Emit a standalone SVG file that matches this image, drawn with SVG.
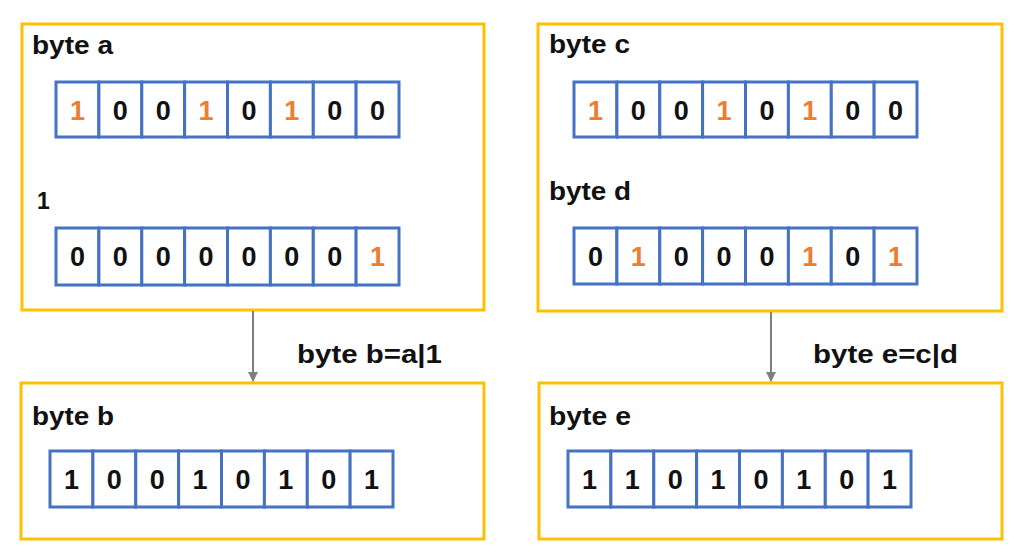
<svg xmlns="http://www.w3.org/2000/svg" width="1024" height="558" viewBox="0 0 1024 558">
<style>
.box{fill:#fff;stroke:#FFC000;stroke-width:3}
.cell{fill:#fff;stroke:#4472C4;stroke-width:3}
.lbl{font-family:"Liberation Sans",Arial,sans-serif;font-weight:bold;font-size:26px;fill:#111}
.d{font-family:"Liberation Sans",Arial,sans-serif;font-weight:bold;font-size:27px;fill:#111;text-anchor:middle}
.o{fill:#ED7D31}
.conn{stroke:#7F7F7F;stroke-width:2;fill:none}
</style>
<defs>
<marker id="arr" markerWidth="10" markerHeight="10" refX="9" refY="5" orient="auto" markerUnits="userSpaceOnUse">
<path d="M0,0 L10,5 L0,10 Z" fill="#7F7F7F"/>
</marker>
</defs>
<rect width="1024" height="558" fill="#fff"/>

<g id="box-ab">
<rect class="box" x="22" y="24" width="462" height="286"/>
<text class="lbl" x="32" y="54" textLength="81" lengthAdjust="spacingAndGlyphs">byte a</text>
<g id="array-a">
<rect class="cell" x="56" y="82" width="42.9" height="55"/><rect class="cell" x="98.9" y="82" width="42.9" height="55"/><rect class="cell" x="141.8" y="82" width="42.9" height="55"/><rect class="cell" x="184.6" y="82" width="42.9" height="55"/><rect class="cell" x="227.5" y="82" width="42.9" height="55"/><rect class="cell" x="270.4" y="82" width="42.9" height="55"/><rect class="cell" x="313.3" y="82" width="42.9" height="55"/><rect class="cell" x="356.1" y="82" width="42.9" height="55"/>
<text class="d o" x="77.4" y="119.5">1</text><text class="d" x="120.3" y="119.5">0</text><text class="d" x="163.2" y="119.5">0</text><text class="d o" x="206.1" y="119.5">1</text><text class="d" x="249" y="119.5">0</text><text class="d o" x="291.8" y="119.5">1</text><text class="d" x="334.7" y="119.5">0</text><text class="d" x="377.6" y="119.5">0</text>
</g>
<text class="lbl" x="37" y="209" style="font-size:23px">1</text>
<g id="array-one">
<rect class="cell" x="56" y="228" width="42.9" height="57"/><rect class="cell" x="98.9" y="228" width="42.9" height="57"/><rect class="cell" x="141.8" y="228" width="42.9" height="57"/><rect class="cell" x="184.6" y="228" width="42.9" height="57"/><rect class="cell" x="227.5" y="228" width="42.9" height="57"/><rect class="cell" x="270.4" y="228" width="42.9" height="57"/><rect class="cell" x="313.3" y="228" width="42.9" height="57"/><rect class="cell" x="356.1" y="228" width="42.9" height="57"/>
<text class="d" x="77.4" y="266">0</text><text class="d" x="120.3" y="266">0</text><text class="d" x="163.2" y="266">0</text><text class="d" x="206.1" y="266">0</text><text class="d" x="249" y="266">0</text><text class="d" x="291.8" y="266">0</text><text class="d" x="334.7" y="266">0</text><text class="d o" x="377.6" y="266">1</text>
</g>
</g>

<g id="box-cd">
<rect class="box" x="538" y="24" width="464" height="287"/>
<text class="lbl" x="549" y="53" textLength="81" lengthAdjust="spacingAndGlyphs">byte c</text>
<g id="array-c">
<rect class="cell" x="574" y="82" width="42.9" height="55"/><rect class="cell" x="616.9" y="82" width="42.9" height="55"/><rect class="cell" x="659.8" y="82" width="42.9" height="55"/><rect class="cell" x="702.6" y="82" width="42.9" height="55"/><rect class="cell" x="745.5" y="82" width="42.9" height="55"/><rect class="cell" x="788.4" y="82" width="42.9" height="55"/><rect class="cell" x="831.3" y="82" width="42.9" height="55"/><rect class="cell" x="874.1" y="82" width="42.9" height="55"/>
<text class="d o" x="595.4" y="119.5">1</text><text class="d" x="638.3" y="119.5">0</text><text class="d" x="681.2" y="119.5">0</text><text class="d o" x="724.1" y="119.5">1</text><text class="d" x="767" y="119.5">0</text><text class="d o" x="809.8" y="119.5">1</text><text class="d" x="852.7" y="119.5">0</text><text class="d" x="895.6" y="119.5">0</text>
</g>
<text class="lbl" x="549" y="200" textLength="82" lengthAdjust="spacingAndGlyphs">byte d</text>
<g id="array-d">
<rect class="cell" x="574" y="228" width="42.9" height="56"/><rect class="cell" x="616.9" y="228" width="42.9" height="56"/><rect class="cell" x="659.8" y="228" width="42.9" height="56"/><rect class="cell" x="702.6" y="228" width="42.9" height="56"/><rect class="cell" x="745.5" y="228" width="42.9" height="56"/><rect class="cell" x="788.4" y="228" width="42.9" height="56"/><rect class="cell" x="831.3" y="228" width="42.9" height="56"/><rect class="cell" x="874.1" y="228" width="42.9" height="56"/>
<text class="d" x="595.4" y="265.5">0</text><text class="d o" x="638.3" y="265.5">1</text><text class="d" x="681.2" y="265.5">0</text><text class="d" x="724.1" y="265.5">0</text><text class="d" x="767" y="265.5">0</text><text class="d o" x="809.8" y="265.5">1</text><text class="d" x="852.7" y="265.5">0</text><text class="d o" x="895.6" y="265.5">1</text>
</g>
</g>

<g id="box-b">
<rect class="box" x="21" y="383" width="463" height="156"/>
<text class="lbl" x="32" y="425" textLength="82" lengthAdjust="spacingAndGlyphs">byte b</text>
<g id="array-b">
<rect class="cell" x="50" y="451" width="42.9" height="56"/><rect class="cell" x="92.9" y="451" width="42.9" height="56"/><rect class="cell" x="135.8" y="451" width="42.9" height="56"/><rect class="cell" x="178.6" y="451" width="42.9" height="56"/><rect class="cell" x="221.5" y="451" width="42.9" height="56"/><rect class="cell" x="264.4" y="451" width="42.9" height="56"/><rect class="cell" x="307.3" y="451" width="42.9" height="56"/><rect class="cell" x="350.1" y="451" width="42.9" height="56"/>
<text class="d" x="71.4" y="488.5">1</text><text class="d" x="114.3" y="488.5">0</text><text class="d" x="157.2" y="488.5">0</text><text class="d" x="200.1" y="488.5">1</text><text class="d" x="243" y="488.5">0</text><text class="d" x="285.8" y="488.5">1</text><text class="d" x="328.7" y="488.5">0</text><text class="d" x="371.6" y="488.5">1</text>
</g>
</g>

<g id="box-e">
<rect class="box" x="539" y="383" width="463" height="156"/>
<text class="lbl" x="549" y="425" textLength="82" lengthAdjust="spacingAndGlyphs">byte e</text>
<g id="array-e">
<rect class="cell" x="568" y="451" width="42.9" height="56"/><rect class="cell" x="610.9" y="451" width="42.9" height="56"/><rect class="cell" x="653.8" y="451" width="42.9" height="56"/><rect class="cell" x="696.6" y="451" width="42.9" height="56"/><rect class="cell" x="739.5" y="451" width="42.9" height="56"/><rect class="cell" x="782.4" y="451" width="42.9" height="56"/><rect class="cell" x="825.3" y="451" width="42.9" height="56"/><rect class="cell" x="868.1" y="451" width="42.9" height="56"/>
<text class="d" x="589.4" y="488.5">1</text><text class="d" x="632.3" y="488.5">1</text><text class="d" x="675.2" y="488.5">0</text><text class="d" x="718.1" y="488.5">1</text><text class="d" x="761" y="488.5">0</text><text class="d" x="803.8" y="488.5">1</text><text class="d" x="846.7" y="488.5">0</text><text class="d" x="889.6" y="488.5">1</text>
</g>
</g>

<g id="connectors">
<line class="conn" x1="253" y1="311" x2="253" y2="381" marker-end="url(#arr)"/>
<line class="conn" x1="771" y1="312" x2="771" y2="381" marker-end="url(#arr)"/>
<text class="lbl" x="297" y="363" textLength="145" lengthAdjust="spacingAndGlyphs">byte b=a|1</text>
<text class="lbl" x="813" y="363" textLength="145" lengthAdjust="spacingAndGlyphs">byte e=c|d</text>
</g>
</svg>
